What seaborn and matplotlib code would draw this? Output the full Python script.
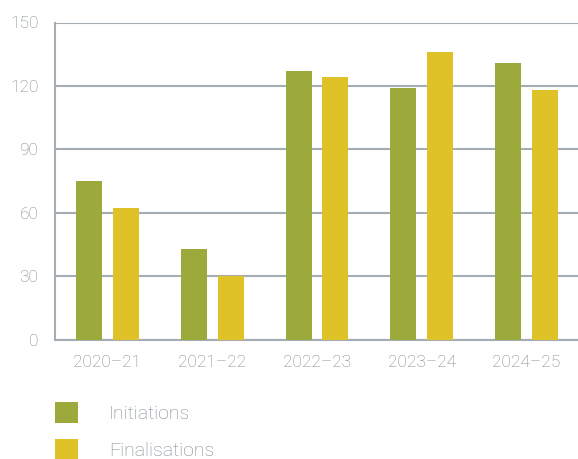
import matplotlib
matplotlib.use("Agg")
import matplotlib.pyplot as plt
import seaborn as sns
import pandas as pd

# Data
years = ["2020\u201321", "2021\u201322", "2022\u201323", "2023\u201324", "2024\u201325"]
initiations = [75, 43, 127, 119, 131]
finalisations = [62, 30, 124, 136, 118]
series_names = ["Initiations", "Finalisations"]
y_ticks = [0, 30, 60, 90, 120, 150]

df = pd.DataFrame({
    "year": years * 2,
    "count": initiations + finalisations,
    "type": [series_names[0]] * len(years) + [series_names[1]] * len(years),
})

sns.set_theme(style="white")
plt.rcParams["font.family"] = ["Roboto", "DejaVu Sans"]

text_color = "#7b868d"
grid_color = "#a3adb3"
palette = {"Initiations": "#9caa3c", "Finalisations": "#dfc227"}

fig = plt.figure(figsize=(5.78, 4.59), dpi=100)
ax = fig.add_axes([55 / 578, 119.5 / 459, 524 / 578, 317 / 459])

sns.barplot(data=df, x="year", y="count", hue="type", palette=palette,
            width=0.7, gap=0.29, saturation=1, linewidth=0, ax=ax, zorder=3)

ax.set_xlim(-0.5, 4.5)
ax.set_ylim(0, 150)
ax.set_yticks(y_ticks)
ax.set_xlabel("")
ax.set_ylabel("")

ax.yaxis.grid(True, color=grid_color, linewidth=1.5, zorder=0)
ax.set_axisbelow(True)
for side in ["top", "right"]:
    ax.spines[side].set_visible(False)
for side in ["left", "bottom"]:
    ax.spines[side].set_color(grid_color)
    ax.spines[side].set_linewidth(1.5)

ax.tick_params(axis="y", length=0, pad=12, labelsize=12.5, labelcolor=text_color)
ax.tick_params(axis="x", length=0, pad=11, labelsize=12.5, labelcolor=text_color)
for lbl in ax.get_xticklabels() + ax.get_yticklabels():
    lbl.set_fontweight("light")

handles, labels = ax.get_legend_handles_labels()
ax.legend(handles, labels, loc="upper left",
          bbox_to_anchor=(55 / 578, 57 / 459), bbox_transform=fig.transFigure,
          frameon=False, borderpad=0, borderaxespad=0,
          handlelength=1.2, handleheight=1.25, handletextpad=1.58,
          labelspacing=0.82, labelcolor=text_color,
          prop={"weight": "light", "size": 14})

fig.savefig("out.png", dpi=100)
